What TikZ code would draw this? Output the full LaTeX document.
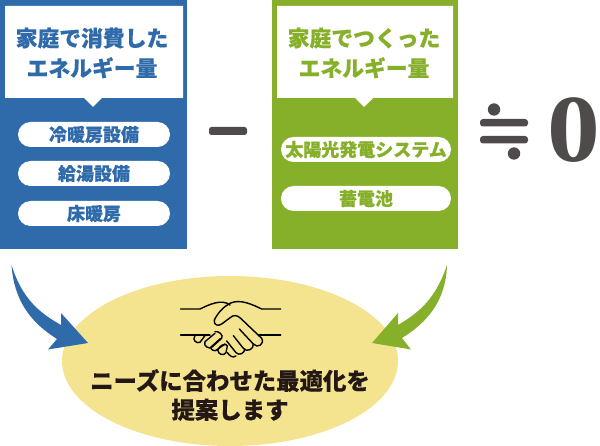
\documentclass[tikz,border=0pt]{standalone}
\usepackage{fontspec}
\usetikzlibrary{shapes.geometric}
\setmainfont{Noto Sans CJK JP}[BoldFeatures={FakeBold=0.35}]
\newfontfamily\zerofont{Liberation Serif}
\definecolor{myblue}{HTML}{2F6BAA}
\definecolor{mygreen}{HTML}{86B02A}
\definecolor{mydark}{HTML}{4F4B4A}
\definecolor{myyellow}{HTML}{F4E38F}
\definecolor{txtdark}{HTML}{231815}
\tikzset{
 panelbg/.style={draw=none,minimum height=249pt,inner sep=0pt,outer sep=0pt},
 headtxt/.style={font=\fontsize{21.8}{30}\selectfont\bfseries,align=center,inner sep=0pt},
 pill/.style={fill=white,rounded corners=12.5pt,minimum height=25pt,inner sep=0pt,outer sep=0pt,font=\fontsize{18}{18}\selectfont\bfseries},
 hs/.style={draw=black,line width=1.4pt,line cap=round,line join=round}
}
\begin{document}
\begin{tikzpicture}[x=1pt,y=-1pt]
\useasboundingbox (0,0) rectangle (600,446);
% ellipse
\node[fill=myyellow,ellipse,minimum width=336pt,minimum height=170pt,inner sep=0pt] (ell) at (230,361) {};
% panels
\node[panelbg,fill=myblue,minimum width=187pt] (bluep) at (93.5,124.5) {};
\node[panelbg,fill=mygreen,minimum width=186pt] (greenp) at (365,124.5) {};
\fill[white] (5,6) -- (183,6) -- (183,98) -- (102,98) -- (93,107) -- (84,98) -- (5,98) -- cycle;
\fill[white] (277,6) -- (453,6) -- (453,98) -- (373,98) -- (364,107) -- (355,98) -- (277,98) -- cycle;
\node[headtxt,text=myblue] (h1) at (92,53) {家庭で消費した\\エネルギー量};
\node[headtxt,text=mygreen] (h2) at (364,53) {家庭でつくった\\エネルギー量};
% pills
\node[pill,minimum width=152pt,text=myblue] (p1) at (94,134.5) {冷暖房設備};
\node[pill,minimum width=152pt,text=myblue] (p2) at (94,173.5) {給湯設備};
\node[pill,minimum width=152pt,text=myblue] (p3) at (94,213.5) {床暖房};
\node[pill,minimum width=170pt,text=mygreen] (p4) at (366,149.5) {太陽光発電システム};
\node[pill,minimum width=170pt,text=mygreen] (p5) at (366,198.5) {蓄電池};
% operators
\fill[mydark,rounded corners=2.5pt] (209,127) rectangle (247,135);
\fill[mydark,rounded corners=3pt] (480,119) rectangle (528,126.5);
\fill[mydark,rounded corners=3pt] (480,136) rectangle (528,143.5);
\fill[mydark] (494,109.5) circle (6.2pt);
\fill[mydark] (514,153.5) circle (6.2pt);
\node[inner sep=0pt,text=mydark,xscale=1.1,font=\fontsize{96}{96}\selectfont\bfseries\zerofont] (zero) at (573.4,130) {0};
% arrows
\coordinate (a1) at (11.5,265);
\coordinate (a2) at (447,265);
\fill[myblue] (a1) .. controls (22,298) and (38,312) .. (61,325) -- (61,313) -- (88,343) -- (48,349.5) -- (57,339) .. controls (30,322) and (14,300) .. cycle;
\fill[mygreen] (a2) .. controls (436,298) and (420,312) .. (398,325) -- (398,313) -- (372,343) -- (411,349.5) -- (402,338) .. controls (428,322) and (446,300) .. cycle;
% handshake
\begin{scope}[shift={(150,270)},x=0.3333pt,y=-0.3333pt]
\draw[hs] (92,117) -- (150,117) .. controls (175,105) and (215,85) .. (240,105);
\draw[hs] (392,117) -- (335,117) .. controls (310,105) and (270,85) .. (240,100) .. controls (225,108) and (205,125) .. (193,150) .. controls (190,165) and (205,170) .. (215,162) -- (238,145) .. controls (250,133) and (262,135) .. (272,145) -- (335,205) .. controls (345,222) and (322,237) .. (310,222) -- (268,177);
\draw[hs] (92,195) -- (180,195);
\draw[hs] (325,195) -- (392,195);
\draw[hs] (310,222) .. controls (312,238) and (290,248) .. (280,235) -- (250,197);
\draw[hs] (285,238) .. controls (282,250) and (268,258) .. (258,248) -- (230,213);
\draw[hs] (258,258) .. controls (248,265) and (240,258) .. (232,248);
\draw[hs] (165,197) -- (150,217) .. controls (140,222) and (125,210) .. (135,197);
\draw[hs] (195,190) -- (165,215) .. controls (158,228) and (178,238) .. (185,232) -- (215,205) .. controls (222,195) and (205,182) .. (195,185);
\draw[hs] (212,205) -- (182,232) .. controls (182,240) and (195,245) .. (200,240) -- (225,222);
\draw[hs] (210,230) -- (203,240) .. controls (205,255) and (222,258) .. (228,248) -- (232,228) .. controls (230,222) and (218,222) .. (210,230);
\end{scope}
% bottom text
\node[font=\fontsize{23.4}{29}\selectfont\bfseries,align=center,text=txtdark,inner sep=0pt] (t) at (230,395) {ニーズに合わせた最適化を\\提案します};
\end{tikzpicture}
\end{document}
